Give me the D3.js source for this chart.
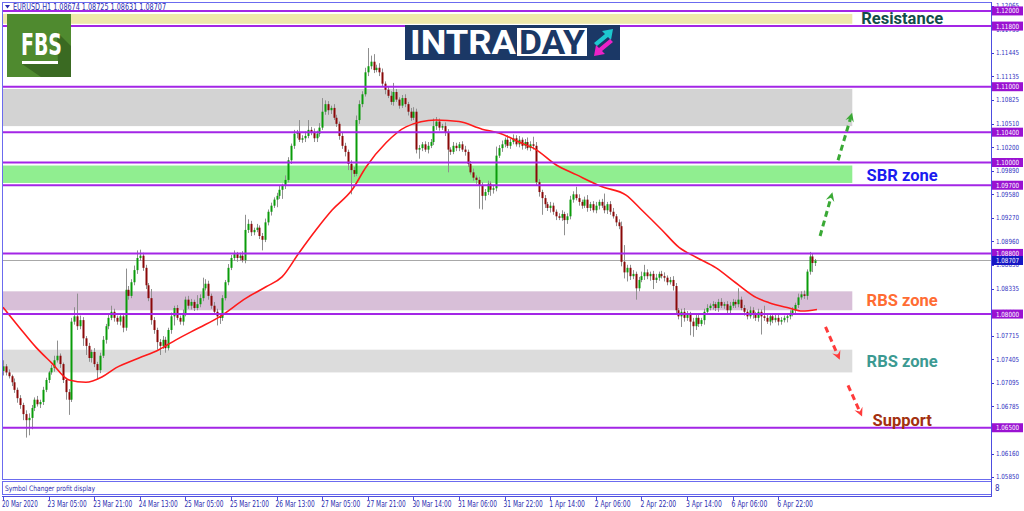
<!doctype html>
<html>
<head>
<script src="https://cdnjs.cloudflare.com/ajax/libs/d3/7.8.5/d3.min.js"></script>
<style>
  body { margin: 0; background: #fff; }
  text { font-family: "DejaVu Sans Condensed", "DejaVu Sans", sans-serif; }
  .tag { font-family: Roboto, "Open Sans", sans-serif; font-weight: 700; }
</style>
</head>
<body>
<svg id="chart" width="1024" height="511"></svg>
<script>
// EURUSD H1 closes, one per bar
var closes = [
  1.0731, 1.0723, 1.0718, 1.0710, 1.0700, 1.0689, 1.0680, 1.0668, 1.0660, 1.0663,
  1.0676, 1.0687, 1.0681, 1.0684, 1.0700, 1.0713, 1.0723, 1.0729, 1.0739, 1.0745,
  1.0734, 1.0713, 1.0697, 1.0687, 1.0790, 1.0797, 1.0784, 1.0792, 1.0768, 1.0758,
  1.0742, 1.0750, 1.0734, 1.0726, 1.0745, 1.0766, 1.0784, 1.0795, 1.0803, 1.0795,
  1.0790, 1.0797, 1.0782, 1.0832, 1.0824, 1.0842, 1.0858, 1.0874, 1.0877, 1.0861,
  1.0838, 1.0821, 1.0792, 1.0779, 1.0763, 1.0758, 1.0766, 1.0755, 1.0779, 1.0797,
  1.0808, 1.0795, 1.0790, 1.0800, 1.0819, 1.0811, 1.0816, 1.0808, 1.0813, 1.0821,
  1.0834, 1.0840, 1.0824, 1.0811, 1.0803, 1.0797, 1.0795, 1.0821, 1.0842, 1.0861,
  1.0874, 1.0879, 1.0874, 1.0877, 1.0871, 1.0911, 1.0919, 1.0908, 1.0911, 1.0914,
  1.0903, 1.0898, 1.0921, 1.0935, 1.0943, 1.0951, 1.0956, 1.0964, 1.0969, 1.0977,
  1.1003, 1.1022, 1.1038, 1.1040, 1.1030, 1.1032, 1.1035, 1.1043, 1.1040, 1.1032,
  1.1038, 1.1046, 1.1067, 1.1077, 1.1069, 1.1072, 1.1059, 1.1051, 1.1035, 1.1022,
  1.1014, 1.0998, 1.0990, 1.0985, 1.1056, 1.1077, 1.1090, 1.1119, 1.1127, 1.1133,
  1.1122, 1.1125, 1.1119, 1.1104, 1.1096, 1.1088, 1.1080, 1.1093, 1.1083, 1.1075,
  1.1085, 1.1077, 1.1067, 1.1059, 1.1067, 1.1017, 1.1019, 1.1024, 1.1017, 1.1022,
  1.1027, 1.1048, 1.1054, 1.1046, 1.1048, 1.1040, 1.1017, 1.1014, 1.1022, 1.1019,
  1.1024, 1.1017, 1.1014, 1.0998, 1.0987, 1.0980, 1.0977, 1.0969, 1.0956, 1.0961,
  1.0972, 1.0964, 1.0966, 1.1009, 1.1019, 1.1024, 1.1030, 1.1022, 1.1027, 1.1032,
  1.1024, 1.1030, 1.1022, 1.1027, 1.1019, 1.1024, 1.1022, 1.0974, 1.0961, 1.0953,
  1.0945, 1.0940, 1.0943, 1.0935, 1.0929, 1.0927, 1.0932, 1.0924, 1.0929, 1.0951,
  1.0958, 1.0953, 1.0948, 1.0943, 1.0951, 1.0940, 1.0945, 1.0937, 1.0943, 1.0948,
  1.0943, 1.0937, 1.0945, 1.0935, 1.0929, 1.0921, 1.0916, 1.0869, 1.0855, 1.0861,
  1.0850, 1.0853, 1.0834, 1.0845, 1.0850, 1.0855, 1.0850, 1.0853, 1.0845, 1.0848,
  1.0853, 1.0850, 1.0848, 1.0842, 1.0845, 1.0837, 1.0805, 1.0797, 1.0803, 1.0795,
  1.0800, 1.0790, 1.0784, 1.0795, 1.0787, 1.0792, 1.0803, 1.0808, 1.0811, 1.0813,
  1.0808, 1.0816, 1.0811, 1.0813, 1.0805, 1.0811, 1.0816, 1.0813, 1.0819, 1.0808,
  1.0803, 1.0797, 1.0805, 1.0800, 1.0795, 1.0803, 1.0797, 1.0795, 1.0790, 1.0797,
  1.0792, 1.0795, 1.0790, 1.0792, 1.0795, 1.0797, 1.0800, 1.0805, 1.0812, 1.0822,
  1.0826, 1.0824, 1.0856, 1.0876, 1.08674, 1.08707
];
var firstOpen = 1.0725;

// wick lengths beyond the body, in pips
var upperWick = [
  8,3,4,2,5,3,4,3,5,6, 4,3,5,3,4,3,2,4,6,20, 3,2,3,4,5,12,30,6,4,3, 4,3,5,3,4,5,3,6,8,4,
  3,4,3,28,5,4,6,10,8,4, 4,3,12,4,3,4,5,4,3,5, 3,4,3,6,4,5,4,3,12,5, 14,6,4,3,5,4,3,4,3,5,
  4,5,3,4,6,20,6,4,3,5, 3,4,5,3,4,3,4,5,3,6, 4,3,5,3,16,4,6,13,4,5, 4,6,18,5,4,3,5,4,3,4,
  4,3,5,4,6,5,4,6,24,8, 10,4,6,5,3,4,6,12,4,3, 4,5,3,5,6,4,4,3,4,5, 4,10,6,4,3,5,4,3,5,4,
  3,4,5,3,4,5,3,4,5,4, 4,3,4,12,4,5,3,6,4,5, 4,5,3,4,6,4,10,5,4,3, 4,3,5,4,3,4,5,3,4,5,
  4,10,5,3,4,6,3,4,5,3, 4,16,3,4,5,3,4,6,22,4, 4,5,3,4,6,10,4,3,4,5, 3,4,5,3,4,5,4,3,4,5,
  4,3,5,4,6,3,4,5,3,4, 3,4,5,3,4,5,4,3,15,4, 4,3,5,4,3,4,3,14,5,4, 3,4,5,4,3,4,5,4,3,5,
  4,5,3,6,4,2
];
var lowerWick = [
  6,4,3,5,4,6,5,8,23,20, 15,4,3,5,4,3,4,3,5,3, 5,4,10,20,3,4,5,4,10,12, 5,6,4,12,4,3,5,4,3,5,
  4,5,6,4,5,3,4,5,4,4, 5,4,6,5,10,12,4,6,3,5, 12,3,4,5,3,4,5,4,3,4, 4,3,5,4,3,12,8,4,3,4,
  3,4,5,4,3,4,4,5,4,3, 4,14,3,4,5,3,10,4,12,4, 3,5,4,6,3,4,5,3,4,5, 5,4,3,4,6,5,3,4,5,4,
  6,8,32,4,3,5,4,3,5,4, 4,3,5,4,6,3,4,5,3,4, 3,4,5,4,3,5,12,4,3,5, 3,4,5,4,3,5,30,4,3,4,
  4,3,5,4,3,4,5,30,18,6, 4,8,5,4,3,5,4,3,4,3, 3,4,5,4,3,4,5,4,6,22, 5,4,6,4,5,3,4,20,5,4,
  4,3,5,4,3,5,4,3,4,5, 3,4,5,4,3,5,4,6,8,12, 5,4,15,4,3,5,4,6,12,4, 4,3,5,4,3,6,5,4,14,5,
  4,18,14,5,4,3,6,4,3,5, 4,5,3,4,6,4,3,5,4,3, 5,4,3,6,4,5,24,4,3,5, 4,3,5,4,3,6,4,3,5,4,
  3,4,5,4,12,4
];

// moving average: bar index -> price
var maBars = [0, 5.6, 11.6, 17.2, 23.2, 29.1, 34.7, 39.6, 47.7, 54.7, 60.7, 68.8, 75.8, 85.3, 92.3, 97.9,
  103.9, 109.8, 115.4, 122.5, 127.4, 134.4, 141.4, 151.9, 160, 168.1, 174, 181.1, 187, 194, 201.1,
  210.2, 218.6, 224.2, 231.2, 237.2, 243.2, 250.2, 257.2, 264.2, 268.8, 275.8, 280.4, 285.6];
var maVals = [1.0809, 1.0783, 1.0756, 1.0735, 1.0713, 1.0710, 1.0717, 1.0729, 1.0742, 1.0753, 1.0766,
  1.0782, 1.0796, 1.0821, 1.0836, 1.0849, 1.0881, 1.0911, 1.0937, 1.0964, 1.0994, 1.1026, 1.1047,
  1.1056, 1.1054, 1.1044, 1.1039, 1.1027, 1.1017, 1.0997, 1.0984, 1.0968, 1.0957, 1.0937, 1.0911,
  1.0888, 1.0875, 1.0861, 1.0841, 1.0822, 1.0815, 1.0808, 1.0804, 1.0806];

var dateLabels = ["20 Mar 2020", "23 Mar 05:00", "23 Mar 21:00", "24 Mar 13:00", "25 Mar 05:00",
  "25 Mar 21:00", "26 Mar 13:00", "27 Mar 05:00", "27 Mar 21:00", "30 Mar 14:00", "31 Mar 06:00",
  "31 Mar 22:00", "1 Apr 14:00", "2 Apr 06:00", "2 Apr 22:00", "3 Apr 14:00", "6 Apr 06:00", "6 Apr 22:00"];
var barsPerLabel = 16;

var priceTicks = [1.12065, 1.11755, 1.11445, 1.11135, 1.10825, 1.10510, 1.10200, 1.09890, 1.09580,
  1.09270, 1.08960, 1.08650, 1.08335, 1.08025, 1.07715, 1.07405, 1.07095, 1.06785, 1.06475, 1.06160, 1.05850];

var levels = [1.12, 1.118, 1.11, 1.104, 1.10, 1.097, 1.088, 1.08, 1.065];
var lastPrice = 1.08707;
var header = "EURUSD.H1  1.08674 1.08725 1.08631 1.08707";

var zoneTop    = [1.1196, 1.1097, 1.0996, 1.0830, 1.0753];
var zoneBottom = [1.1183, 1.1048, 1.0973, 1.0805, 1.0723];
var zoneColors = ["#eee8aa", "#d3d3d3", "#90ee90", "#d8bfd8", "#dcdcdc"];

var zoneNames  = ["Resistance", "SBR zone", "RBS zone", "RBS zone", "Support"];
var namePrices = [1.1191, 1.0984, 1.0819, 1.0738, 1.0660];
var nameColors = ["#134d4a", "#1a1af0", "#ff6c33", "#3c9a92", "#a3300f"];

// dashed forecast arrows: [bar0, price0, bar1, price1]
var arrows = [[286.7, 1.0903, 290.6, 1.0955], [293, 1.1003, 297.5, 1.1060],
              [288.6, 1.0783, 293, 1.0745], [296.5, 1.0706, 300.8, 1.0670]];
var arrowColors = ["#3aa935", "#3aa935", "#ff3b3b", "#ff3b3b"];

var svg = d3.select("#chart");
var pLeft = 2, pRight = 991, pTop = 2, pBottom = 479;

var x = d3.scaleLinear().domain([0, 285]).range([3, 815.25]);
var y = d3.scaleLinear().domain([1.0585, 1.12065]).range([477, 6]);

var bars = closes.map(function(c, i) {
  var o = i === 0 ? firstOpen : closes[i - 1];
  return { i: i, o: o, c: c,
    h: Math.max(o, c) + upperWick[i] / 10000,
    l: Math.min(o, c) - lowerWick[i] / 10000 };
});

var defs = svg.append("defs");
defs.append("clipPath").attr("id", "clip").append("rect")
  .attr("x", pLeft).attr("y", pTop).attr("width", pRight - pLeft).attr("height", pBottom - pTop);
var inner = svg.append("g").attr("clip-path", "url(#clip)");

// zones
inner.selectAll("rect.zone").data(zoneTop).enter().append("rect")
  .attr("class", "zone")
  .attr("x", pLeft)
  .attr("width", x(298) - pLeft)
  .attr("y", function(d) { return y(d); })
  .attr("height", function(d, i) { return y(zoneBottom[i]) - y(d); })
  .attr("fill", function(d, i) { return zoneColors[i]; });

// bid line
inner.append("line")
  .attr("x1", pLeft).attr("x2", pRight)
  .attr("y1", Math.round(y(lastPrice)) + 0.5).attr("y2", Math.round(y(lastPrice)) + 0.5)
  .attr("stroke", "#a8a8a8").attr("stroke-width", 1);

// candles
var candle = inner.selectAll("g.candle").data(bars).enter().append("g").attr("class", "candle");
candle.append("line")
  .attr("x1", function(d) { return Math.round(x(d.i)) + 0.5; })
  .attr("x2", function(d) { return Math.round(x(d.i)) + 0.5; })
  .attr("y1", function(d) { return y(d.h); })
  .attr("y2", function(d) { return y(d.l); })
  .attr("stroke", "#8f8f8f").attr("stroke-width", 1);
candle.append("rect")
  .attr("x", function(d) { return Math.round(x(d.i)) - 0.5; })
  .attr("width", 2)
  .attr("y", function(d) { return y(Math.max(d.o, d.c)); })
  .attr("height", function(d) { return Math.max(1, Math.abs(y(d.o) - y(d.c))); })
  .attr("fill", function(d) { return d.c >= d.o ? "#0a9c0a" : "#8a0808"; });

// moving average
var maLine = d3.line()
  .x(function(d) { return x(d); })
  .y(function(d, i) { return y(maVals[i]); })
  .curve(d3.curveMonotoneX);
inner.append("path").attr("d", maLine(maBars))
  .attr("fill", "none").attr("stroke", "#ff1a1a").attr("stroke-width", 1.6);

// horizontal levels
inner.selectAll("line.level").data(levels).enter().append("line")
  .attr("class", "level")
  .attr("x1", pLeft).attr("x2", pRight)
  .attr("y1", function(d) { return y(d); })
  .attr("y2", function(d) { return y(d); })
  .attr("stroke", "#a326e6").attr("stroke-width", 2);

// arrows
arrowColors.forEach(function(col, k) {
  defs.append("marker").attr("id", "ah" + k)
    .attr("viewBox", "0 0 10 10").attr("refX", 5).attr("refY", 5)
    .attr("markerWidth", 11).attr("markerHeight", 11)
    .attr("markerUnits", "userSpaceOnUse").attr("orient", "auto")
    .append("path").attr("d", "M1,1 L9,5 L1,9 L4,5 Z").attr("fill", col);
});
inner.selectAll("line.arrow").data(arrows).enter().append("line")
  .attr("class", "arrow")
  .attr("x1", function(d) { return x(d[0]); })
  .attr("y1", function(d) { return y(d[1]); })
  .attr("x2", function(d) { return x(d[2]); })
  .attr("y2", function(d) { return y(d[3]); })
  .attr("stroke", function(d, k) { return arrowColors[k]; })
  .attr("stroke-width", 3).attr("stroke-dasharray", "6,4")
  .attr("marker-end", function(d, k) { return "url(#ah" + k + ")"; });

// zone names
inner.selectAll("text.zname").data(zoneNames).enter().append("text")
  .attr("class", "tag")
  .attr("x", x(315.5))
  .attr("y", function(d, i) { return y(namePrices[i]); })
  .attr("dy", "0.36em")
  .attr("text-anchor", "middle")
  .attr("font-size", 16.5)
  .attr("fill", function(d, i) { return nameColors[i]; })
  .text(function(d) { return d; });

// frame
svg.append("rect").attr("x", pLeft + 0.5).attr("y", pTop + 0.5)
  .attr("width", pRight - pLeft).attr("height", pBottom - pTop)
  .attr("fill", "none").attr("stroke", "#6b6bef");

// header
svg.append("path").attr("d", "M5,5 L10,5 L7.5,8.5 Z").attr("fill", "#2c2cb0");
svg.append("text").attr("x", 13).attr("y", 9.5).attr("font-size", 8).attr("fill", "#2c2cb0")
  .attr("textLength", 153).attr("lengthAdjust", "spacingAndGlyphs").text(header);

// price axis
var axis = svg.append("g");
axis.selectAll("line.ptick").data(priceTicks).enter().append("line")
  .attr("x1", pRight).attr("x2", pRight + 3)
  .attr("y1", function(d) { return Math.round(y(d)) + 0.5; })
  .attr("y2", function(d) { return Math.round(y(d)) + 0.5; })
  .attr("stroke", "#3b3bcf");
axis.selectAll("text.ptick").data(priceTicks).enter().append("text")
  .attr("x", pRight + 5).attr("y", function(d) { return y(d); }).attr("dy", "0.35em")
  .attr("font-size", 7).attr("fill", "#2f2fc0")
  .attr("textLength", 23).attr("lengthAdjust", "spacingAndGlyphs")
  .text(function(d) { return d.toFixed(5); });

var boxes = levels.map(function(v) { return { v: v, col: "#9a12d2" }; });
boxes.push({ v: lastPrice, col: "#1616c4" });
var box = axis.selectAll("g.box").data(boxes).enter().append("g")
  .attr("transform", function(d) { return "translate(" + (pRight + 1) + "," + y(d.v) + ")"; });
box.append("rect").attr("x", 0).attr("y", -4.5).attr("width", 31).attr("height", 9)
  .attr("fill", function(d) { return d.col; });
box.append("text").attr("x", 4).attr("dy", "0.35em").attr("font-size", 7).attr("fill", "#fff")
  .attr("textLength", 23).attr("lengthAdjust", "spacingAndGlyphs")
  .text(function(d) { return d.v.toFixed(5); });

// sub window
svg.append("rect").attr("x", pLeft + 0.5).attr("y", 481.5).attr("width", pRight - pLeft).attr("height", 13)
  .attr("fill", "none").attr("stroke", "#6b6bef");
svg.append("text").attr("x", 5).attr("y", 491).attr("font-size", 7.5).attr("fill", "#2c2cb0")
  .attr("textLength", 90).attr("lengthAdjust", "spacingAndGlyphs")
  .text("Symbol Changer profit display");
svg.append("text").attr("x", pRight + 4).attr("y", 491).attr("font-size", 8).attr("fill", "#2c2cb0").text("8");

// time axis
svg.append("line").attr("x1", pLeft).attr("x2", pRight).attr("y1", 496.5).attr("y2", 496.5).attr("stroke", "#4d4de0");
var tAxis = svg.append("g");
tAxis.selectAll("line").data(dateLabels).enter().append("line")
  .attr("x1", function(d, k) { return Math.round(x(k * barsPerLabel)) + 0.5; })
  .attr("x2", function(d, k) { return Math.round(x(k * barsPerLabel)) + 0.5; })
  .attr("y1", 496).attr("y2", 500).attr("stroke", "#4d4de0");
tAxis.selectAll("text").data(dateLabels).enter().append("text")
  .attr("x", function(d, k) { return x(k * barsPerLabel) - 1; })
  .attr("y", 507).attr("font-size", 8).attr("fill", "#2c2cb0")
  .attr("textLength", function(d) { return d.length * 3.25; }).attr("lengthAdjust", "spacingAndGlyphs")
  .text(function(d) { return d; });
svg.append("line").attr("x1", pRight + 0.5).attr("x2", pRight + 0.5).attr("y1", pTop).attr("y2", 497)
  .attr("stroke", "#4d4de0");

// FBS logo
var fbs = svg.append("g").attr("transform", "translate(7,14)");
fbs.append("rect").attr("width", 64).attr("height", 63).attr("fill", "#4f8a2f");
fbs.append("path").attr("d", "M50,18 L64,32 L64,63 L34,63 L15,50 L51,50 Z").attr("fill", "#3a6a22");
fbs.append("text").attr("x", 14).attr("y", 41).attr("textLength", 41).attr("lengthAdjust", "spacingAndGlyphs")
  .attr("font-size", 30).attr("font-weight", 700).attr("fill", "#fff").text("FBS");
fbs.append("rect").attr("x", 15).attr("y", 47).attr("width", 36).attr("height", 3).attr("fill", "#fff");

// INTRADAY logo
var intra = svg.append("g").attr("transform", "translate(405,25)");
intra.append("rect").attr("width", 215).attr("height", 35).attr("fill", "#1b3866");
intra.append("text").attr("x", 5).attr("y", 29).attr("class", "tag").attr("font-size", 34)
  .attr("textLength", 106).attr("lengthAdjust", "spacingAndGlyphs").attr("fill", "#fff").text("INTRA");
intra.append("rect").attr("x", 112).attr("y", 3).attr("width", 70).attr("height", 28).attr("fill", "#fff");
intra.append("text").attr("x", 114).attr("y", 29).attr("class", "tag").attr("font-size", 34)
  .attr("textLength", 66).attr("lengthAdjust", "spacingAndGlyphs").attr("fill", "#1b3866").text("DAY");
intra.append("path").attr("d", "M189,18 L200,9 L197,6 L208,4 L206,15 L203,12 L192,21 Z").attr("fill", "#1ec8cf");
intra.append("path").attr("d", "M208,17 L197,26 L200,29 L189,31 L191,20 L194,23 L205,14 Z").attr("fill", "#ec22c8");
</script>
</body>
</html>
